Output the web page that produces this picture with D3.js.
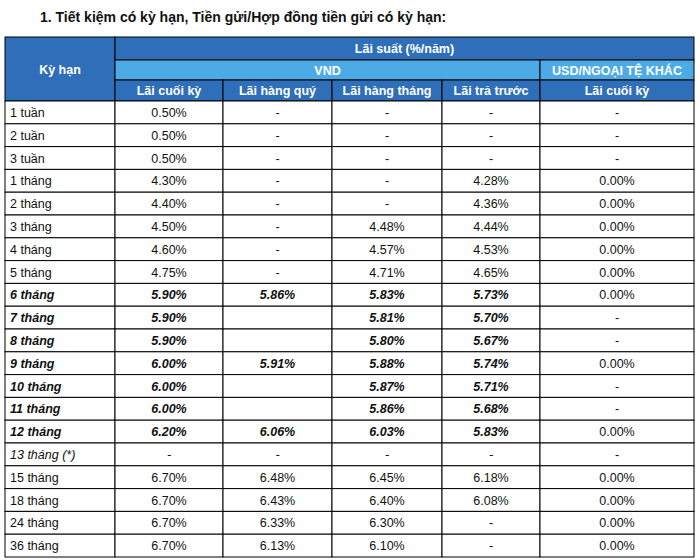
<!DOCTYPE html>
<html><head><meta charset="utf-8">
<script src="https://cdn.jsdelivr.net/npm/d3@7"></script>
<style>body{margin:0;background:#fff}svg{font-family:"Liberation Sans",Arial,sans-serif}</style>
</head><body><div id="chart"></div>
<script>
// data
var terms = ["1 tuần","2 tuần","3 tuần","1 tháng","2 tháng","3 tháng","4 tháng","5 tháng","6 tháng","7 tháng","8 tháng","9 tháng","10 tháng","11 tháng","12 tháng","13 tháng (*)","15 tháng","18 tháng","24 tháng","36 tháng"];
var cuoiKy   = ["0.50%","0.50%","0.50%","4.30%","4.40%","4.50%","4.60%","4.75%","5.90%","5.90%","5.90%","6.00%","6.00%","6.00%","6.20%","-","6.70%","6.70%","6.70%","6.70%"];
var hangQuy  = ["-","-","-","-","-","-","-","-","5.86%","","","5.91%","","","6.06%","-","6.48%","6.43%","6.33%","6.13%"];
var hangThang= ["-","-","-","-","-","4.48%","4.57%","4.71%","5.83%","5.81%","5.80%","5.88%","5.87%","5.86%","6.03%","-","6.45%","6.40%","6.30%","6.10%"];
var traTruoc = ["-","-","-","4.28%","4.36%","4.44%","4.53%","4.65%","5.73%","5.70%","5.67%","5.74%","5.71%","5.68%","5.83%","-","6.18%","6.08%","-","-"];
var usd      = ["-","-","-","0.00%","0.00%","0.00%","0.00%","0.00%","0.00%","-","-","0.00%","-","-","0.00%","-","0.00%","0.00%","0.00%","0.00%"];
var subHeads = ["Lãi cuối kỳ","Lãi hàng quý","Lãi hàng tháng","Lãi trả trước","Lãi cuối kỳ"];

var colEdges = [5, 115, 223, 332, 442, 540, 694];
var tableTop = 37, headH = [23, 20, 21];
var bodyTop = tableTop + 64, bodyBottom = 557;

var svg = d3.select("#chart").append("svg").attr("width", 700).attr("height", 560);

svg.append("text").attr("x", 40).attr("y", 22).attr("font-size", 14).attr("font-weight", "bold")
  .attr("fill", "#111").text("1. Tiết kiệm có kỳ hạn, Tiền gửi/Hợp đồng tiền gửi có kỳ hạn:");

var y = d3.scaleBand().domain(d3.range(terms.length)).range([bodyTop, bodyBottom]);
var cols = [cuoiKy, hangQuy, hangThang, traTruoc, usd];

function cell(x0, x1, y0, y1, fill, txt, opts) {
  opts = opts || {};
  svg.append("rect").attr("x", x0).attr("y", y0).attr("width", x1 - x0).attr("height", y1 - y0)
    .attr("fill", fill).attr("stroke", "#000").attr("stroke-width", 1);
  svg.append("text").attr("x", opts.left ? x0 + 5 : (x0 + x1) / 2).attr("y", (y0 + y1) / 2 + 4.5)
    .attr("text-anchor", opts.left ? "start" : "middle").attr("font-size", 12.5)
    .attr("font-weight", opts.bold ? "bold" : "normal").attr("font-style", opts.italic ? "italic" : "normal")
    .attr("fill", opts.color || "#111").text(txt);
}

var dark = "#2f6fba", light = "#4cabe6";
var h1 = tableTop + headH[0], h2 = h1 + headH[1], h3 = h2 + headH[2];
cell(colEdges[0], colEdges[1], tableTop, h3, dark, "Kỳ hạn", {bold: true, color: "#fff"});
cell(colEdges[1], colEdges[6], tableTop, h1, dark, "Lãi suất (%/năm)", {bold: true, color: "#fff"});
cell(colEdges[1], colEdges[5], h1, h2, light, "VND", {bold: true, color: "#fff"});
cell(colEdges[5], colEdges[6], h1, h2, light, "USD/NGOẠI TỆ KHÁC", {bold: true, color: "#fff"});
subHeads.forEach(function (s, i) {
  cell(colEdges[i + 1], colEdges[i + 2], h2, h3, dark, s, {bold: true, color: "#fff"});
});

terms.forEach(function (t, r) {
  var y0 = y(r), y1 = y0 + y.bandwidth();
  var it = r >= 8 && r <= 15, bd = r >= 8 && r <= 14;
  cell(colEdges[0], colEdges[1], y0, y1, "#fff", t, {left: true, italic: it, bold: bd});
  cols.forEach(function (c, i) {
    cell(colEdges[i + 1], colEdges[i + 2], y0, y1, "#fff", c[r], {italic: it && i < 4, bold: bd && i < 4});
  });
});
</script></body></html>
